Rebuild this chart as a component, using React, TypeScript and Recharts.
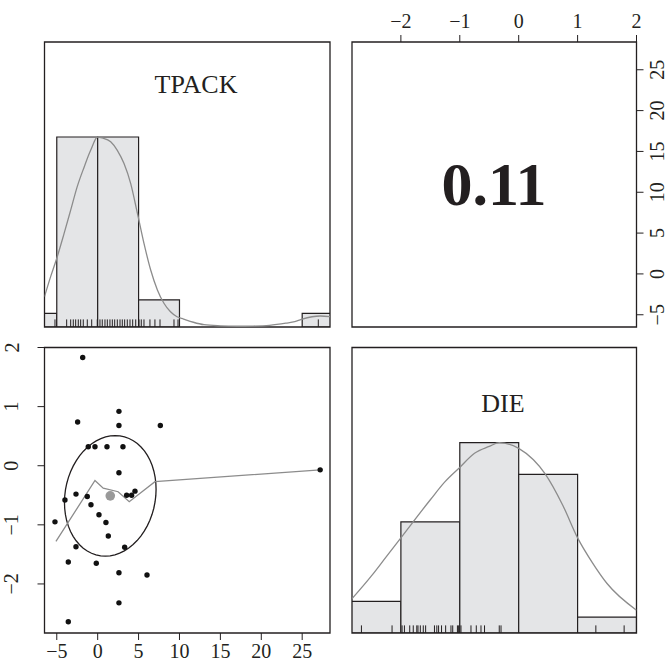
import React from 'react';
import {
  ComposedChart,
  XAxis,
  YAxis,
  Line,
  Scatter,
  ReferenceArea,
  ReferenceLine
} from 'recharts';

// values
const tpackBreaks = [-10, -5, 0, 5, 10, 15, 20, 25, 30];
const tpackCounts = [1, 14, 14, 2, 0, 0, 0, 1];
const dieBreaks = [-3, -2, -1, 0, 1, 2];
const dieCounts = [2, 7, 12, 10, 1];

const tpackRug = [
  -5.22, -3.79, -3.3, -2.98, -2.69, -2.37, -2.08, -1.76, -1.27, -0.73, -0.05, 0.28,
  0.56, 0.89, 1.18, 1.5, 1.79, 2.08, 2.4, 2.73, 3.01, 3.3, 3.62, 3.95, 4.28, 4.65,
  5.05, 5.33, 5.66, 6.39, 7.0, 7.62, 9.33, 9.82, 26.97
];
const dieRug = [
  -2.67, -2.15, -1.98, -1.94, -1.85, -1.79, -1.73, -1.71, -1.67, -1.62, -1.58, -1.43,
  -1.39, -1.36, -1.31, -1.24, -1.15, -1.12, -1.04, -1.02, -0.98, -0.81, -0.72, -0.64,
  -0.58, -0.33, -0.3, 1.31, 1.79
];

const tpackDensX = [-6.5, -5.75, -4.94, -4.12, -3.3, -2.49, -1.67, -0.86, 0, 0.57, 1.59, 2.4,
  3.22, 4.03, 4.85, 5.66, 6.48, 7.3, 8.1, 8.9, 9.7, 10.5, 11.7, 13, 15, 17, 19, 21, 23,
  24.1, 24.9, 26.2, 27.2, 28.4];
const tpackDensY = [0.16, 0.265, 0.37, 0.49, 0.615, 0.74, 0.84, 0.93, 1.0, 0.995, 0.975, 0.93,
  0.86, 0.756, 0.6, 0.44, 0.3, 0.195, 0.125, 0.08, 0.054, 0.042, 0.025, 0.012, 0.006, 0.004,
  0.005, 0.009, 0.02, 0.028, 0.04, 0.054, 0.058, 0.055];

const dieDensX = [-2.83, -2.5, -2.25, -2, -1.5, -1.25, -1, -0.75, -0.5, -0.33, 0, 0.25, 0.44,
  0.75, 1, 1.25, 1.5, 2];
const dieDensY = [0.18, 0.3, 0.4, 0.5, 0.7, 0.795, 0.87, 0.944, 0.98, 1.0, 0.97, 0.91, 0.84,
  0.67, 0.5, 0.37, 0.26, 0.12];

const tpackVals = [-1.83, 2.6, -2.45, 2.6, 7.66, -1.15, -0.33, 1.14, 3.09, 2.6, 27.2, -2.65,
  -1.27, 3.54, 4.15, 4.56, -4.0, -0.82, 0.16, -5.22, 1.01, 1.3, -2.65, 3.3, -3.59, -0.17,
  2.6, 6.03, 2.6, -3.59];
const dieVals = [1.83, 0.92, 0.74, 0.68, 0.68, 0.32, 0.32, 0.32, 0.32, -0.12, -0.07, -0.48,
  -0.52, -0.5, -0.5, -0.43, -0.58, -0.66, -0.83, -0.95, -0.96, -1.19, -1.37, -1.38, -1.63,
  -1.65, -1.81, -1.85, -2.32, -2.64];

const lowessX = [-5.1, -0.33, 0.68, 2.5, 3.86, 7.0, 27.2];
const lowessY = [-1.28, -0.25, -0.38, -0.44, -0.61, -0.27, -0.07];

const meanX = 1.54;
const meanY = -0.51;
const sdX = 5.6;
const sdY = 1.02;
const corr = 0.11;

const tpackTicks = [-5, 0, 5, 10, 15, 20, 25];
const dieTicks = [-2, -1, 0, 1, 2];

const TPACK_DOM: [number, number] = [-6.5, 28.4];
const DIE_DOM: [number, number] = [-2.83, 2.0];
const HIST_DOM: [number, number] = [0, 1.5];

const W = 668;
const H = 663;
const FONT = "'Liberation Serif', 'Times New Roman', serif";
const INK = '#231f20';
const HIST_FILL = '#e4e5e7';
const CURVE = '#8c8c8c';

const pairs = (xs: number[], ys: number[]) => xs.map((x, i) => ({ x, y: ys[i] }));

const bins = (breaks: number[], counts: number[]) => {
  const m = Math.max(...counts);
  return counts.map((c, i) => ({ lo: breaks[i], hi: breaks[i + 1], h: c / m }));
};

// psych-style ellipse from means, sds and r
const ellipse = (() => {
  const n = 60;
  const t = 1 / Math.SQRT2;
  const s1 = Math.sqrt(1 + corr);
  const s2 = Math.sqrt(1 - corr);
  const pts = [];
  for (let i = 0; i <= n; i++) {
    const a = (2 * Math.PI * i) / n;
    const u = Math.cos(a);
    const v = Math.sin(a);
    pts.push({
      x: (u * s1 * t - v * s2 * t) * sdX + meanX,
      y: (u * s1 * t + v * s2 * t) * sdY + meanY
    });
  }
  return pts;
})();

const fmt = (v: number) => (v < 0 ? '\u2212' + Math.abs(v) : String(v));

const makeTick = (side: 'top' | 'bottom' | 'left' | 'right') => (props: any) => {
  const { x, y, payload } = props;
  const common = { fill: INK, fontFamily: FONT, fontSize: 20, textAnchor: 'middle' as const };
  if (side === 'left' || side === 'right') {
    return (
      <text {...common} x={x} y={y} transform={`rotate(-90, ${x}, ${y})`}>
        {fmt(payload.value)}
      </text>
    );
  }
  return (
    <text {...common} x={x} y={y}>
      {fmt(payload.value)}
    </text>
  );
};

interface Box { left: number; right: number; top: number; bottom: number; }

const TL: Box = { left: 44.5, right: 330, top: 42, bottom: 327 };
const TR: Box = { left: 352, right: 636.5, top: 42, bottom: 327 };
const BL: Box = { left: 44.5, right: 330, top: 347.5, bottom: 633 };
const BR: Box = { left: 352, right: 636.5, top: 347.5, bottom: 633 };

const layer: React.CSSProperties = { position: 'absolute', left: 0, top: 0 };

function HistPanel({ box, dom, breaks, counts, rug, densX, densY }: {
  box: Box; dom: [number, number]; breaks: number[]; counts: number[];
  rug: number[]; densX: number[]; densY: number[];
}) {
  const hb = bins(breaks, counts);
  return (
    <div style={layer}>
      <ComposedChart
        width={W}
        height={H}
        margin={{ left: box.left, right: W - box.right, top: box.top, bottom: H - box.bottom }}
      >
        <XAxis type="number" dataKey="x" domain={dom} allowDataOverflow hide />
        <YAxis type="number" dataKey="y" domain={HIST_DOM} allowDataOverflow hide />
        {hb.map((b, i) => (
          <ReferenceArea
            key={'b' + i}
            x1={b.lo}
            x2={b.hi}
            y1={0}
            y2={b.h}
            fill={HIST_FILL}
            fillOpacity={1}
            stroke={INK}
            strokeWidth={1.2}
            ifOverflow="hidden"
          />
        ))}
        {rug.map((v, i) => (
          <ReferenceLine
            key={'r' + i}
            segment={[{ x: v, y: 0 }, { x: v, y: 0.04 }]}
            stroke={INK}
            strokeWidth={1}
            ifOverflow="visible"
          />
        ))}
        <Line
          data={pairs(densX, densY)}
          dataKey="y"
          type="monotone"
          stroke={CURVE}
          strokeWidth={1.3}
          dot={false}
          isAnimationActive={false}
        />
        <ReferenceArea
          x1={dom[0]}
          x2={dom[1]}
          y1={HIST_DOM[0]}
          y2={HIST_DOM[1]}
          fill="none"
          stroke={INK}
          strokeWidth={1.3}
          ifOverflow="visible"
        />
      </ComposedChart>
    </div>
  );
}

function CorrPanel() {
  const box = TR;
  return (
    <div style={layer}>
      <ComposedChart
        width={W}
        height={H}
        margin={{ left: box.left, right: W - box.right - 30, top: box.top - 30, bottom: H - box.bottom }}
      >
        <XAxis
          type="number"
          dataKey="x"
          orientation="top"
          height={30}
          domain={DIE_DOM}
          ticks={dieTicks}
          allowDataOverflow
          axisLine={false}
          tickLine={{ stroke: INK, strokeWidth: 1 }}
          tickSize={7}
          tickMargin={7}
          tick={makeTick('top')}
          interval={0}
        />
        <YAxis
          type="number"
          dataKey="y"
          orientation="right"
          width={30}
          domain={TPACK_DOM}
          ticks={tpackTicks}
          allowDataOverflow
          axisLine={false}
          tickLine={{ stroke: INK, strokeWidth: 1 }}
          tickSize={7}
          tickMargin={21}
          tick={makeTick('right')}
          interval={0}
        />
        <Scatter data={[]} isAnimationActive={false} />
        <ReferenceArea
          x1={DIE_DOM[0]}
          x2={DIE_DOM[1]}
          y1={TPACK_DOM[0]}
          y2={TPACK_DOM[1]}
          fill="none"
          stroke={INK}
          strokeWidth={1.3}
          ifOverflow="visible"
        />
      </ComposedChart>
    </div>
  );
}

function ScatterPanel() {
  const box = BL;
  const dots = pairs(tpackVals, dieVals);
  return (
    <div style={layer}>
      <ComposedChart
        width={W}
        height={H}
        margin={{ left: box.left - 30, right: W - box.right, top: box.top, bottom: H - box.bottom - 30 }}
      >
        <XAxis
          type="number"
          dataKey="x"
          height={30}
          domain={TPACK_DOM}
          ticks={tpackTicks}
          allowDataOverflow
          axisLine={false}
          tickLine={{ stroke: INK, strokeWidth: 1 }}
          tickSize={7}
          tickMargin={18}
          tick={makeTick('bottom')}
          interval={0}
        />
        <YAxis
          type="number"
          dataKey="y"
          width={30}
          domain={DIE_DOM}
          ticks={dieTicks}
          allowDataOverflow
          axisLine={false}
          tickLine={{ stroke: INK, strokeWidth: 1 }}
          tickSize={7}
          tickMargin={19}
          tick={makeTick('left')}
          interval={0}
        />
        <Line
          data={ellipse}
          dataKey="y"
          type="linear"
          stroke={INK}
          strokeWidth={1.3}
          dot={false}
          isAnimationActive={false}
        />
        <Line
          data={pairs(lowessX, lowessY)}
          dataKey="y"
          type="linear"
          stroke={CURVE}
          strokeWidth={1.3}
          dot={false}
          isAnimationActive={false}
        />
        <Scatter
          data={dots}
          isAnimationActive={false}
          shape={(p: any) => <circle cx={p.cx} cy={p.cy} r={2.7} fill="#111" />}
        />
        <Scatter
          data={[{ x: meanX, y: meanY }]}
          isAnimationActive={false}
          shape={(p: any) => <circle cx={p.cx} cy={p.cy} r={4.8} fill="#999" />}
        />
        <ReferenceArea
          x1={TPACK_DOM[0]}
          x2={TPACK_DOM[1]}
          y1={DIE_DOM[0]}
          y2={DIE_DOM[1]}
          fill="none"
          stroke={INK}
          strokeWidth={1.3}
          ifOverflow="visible"
        />
      </ComposedChart>
    </div>
  );
}

export default function App() {
  return (
    <div style={{ position: 'absolute', left: 0, top: 0, width: W, height: H, background: '#fff', overflow: 'hidden' }}>
      <HistPanel
        box={TL}
        dom={TPACK_DOM}
        breaks={tpackBreaks}
        counts={tpackCounts}
        rug={tpackRug}
        densX={tpackDensX}
        densY={tpackDensY}
      />
      <HistPanel
        box={BR}
        dom={DIE_DOM}
        breaks={dieBreaks}
        counts={dieCounts}
        rug={dieRug}
        densX={dieDensX}
        densY={dieDensY}
      />
      <ScatterPanel />
      <CorrPanel />
      <svg width={W} height={H} style={{ ...layer, pointerEvents: 'none' }}>
        <text x={196} y={93} textAnchor="middle" fontFamily={FONT} fontSize={26} fill={INK}>TPACK</text>
        <text x={503} y={411.5} textAnchor="middle" fontFamily={FONT} fontSize={26} fill={INK}>DIE</text>
        <text x={494} y={205} textAnchor="middle" fontFamily={FONT} fontSize={62} fontWeight="bold" fill={INK}>0.11</text>
      </svg>
    </div>
  );
}
